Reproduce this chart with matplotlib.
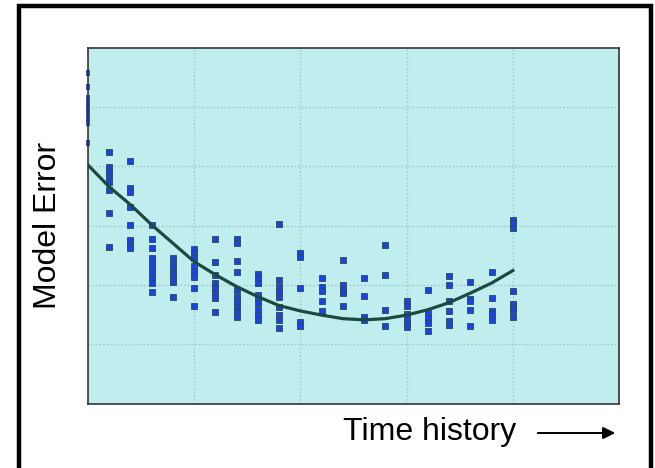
import matplotlib.pyplot as plt
from matplotlib.patches import Rectangle

# положення стовпчиків по осі часу
x_cols = [0.0, 0.2, 0.4, 0.6, 0.8, 1.0, 1.2, 1.4, 1.6, 1.8, 2.0,
          2.2, 2.4, 2.6, 2.8, 3.0, 3.2, 3.4, 3.6, 3.8, 4.0]

# похибки моделі для кожного стовпчика
err_cols = [
    [5.57, 5.33, 5.15, 5.06, 4.98, 4.90, 4.81, 4.73, 4.39],
    [4.24, 3.99, 3.91, 3.82, 3.74, 3.60, 3.21, 2.64],
    [4.08, 3.63, 3.57, 3.32, 3.01, 2.76, 2.67, 2.62],
    [3.01, 2.78, 2.62, 2.45, 2.39, 2.28, 2.22, 2.14, 2.03, 1.88],
    [2.45, 2.36, 2.28, 2.19, 2.11, 2.05, 1.80],
    [2.60, 2.53, 2.45, 2.31, 2.22, 2.14, 1.94, 1.65],
    [2.78, 2.39, 2.17, 2.03, 1.94, 1.86, 1.77, 1.55],
    [2.78, 2.70, 2.41, 2.22, 1.91, 1.80, 1.72, 1.63, 1.55, 1.46],
    [2.19, 2.11, 2.03, 1.83, 1.77, 1.69, 1.58, 1.49, 1.41],
    [3.02, 2.08, 1.97, 1.88, 1.80, 1.63, 1.49, 1.41, 1.27],
    [2.53, 2.47, 1.94, 1.38, 1.31],
    [2.12, 1.97, 1.90, 1.72, 1.56],
    [2.42, 2.00, 1.91, 1.87, 1.64],
    [2.12, 1.81, 1.45, 1.41],
    [2.67, 2.17, 1.58, 1.31],
    [1.72, 1.64, 1.51, 1.44, 1.36, 1.29],
    [1.91, 1.52, 1.44, 1.35, 1.23],
    [2.15, 2.00, 1.73, 1.56, 1.39, 1.32],
    [2.04, 1.76, 1.73, 1.58, 1.31],
    [2.22, 1.78, 1.56, 1.51, 1.41],
    [3.09, 3.04, 2.95, 1.90, 1.68, 1.62, 1.57, 1.45],
]

# тренд, знятий з картинки в тих самих точках
trend = [4.02, 3.65, 3.35, 3.01, 2.70, 2.39, 2.17, 1.97, 1.80, 1.65, 1.56,
         1.49, 1.43, 1.41, 1.43, 1.49, 1.58, 1.70, 1.86, 2.03, 2.24]


def main() -> None:
    plt.rcParams["font.family"] = ["Liberation Sans", "DejaVu Sans"]
    W, H = 655, 468
    fig = plt.figure(figsize=(W / 100, H / 100), dpi=100)

    # чорна рамка навколо всього малюнка
    fig.patches.append(Rectangle((19 / W, -0.05), 632 / W, 1.05 - 6 / H,
                                 transform=fig.transFigure, fill=False,
                                 edgecolor="black", linewidth=3.2))

    ax = fig.add_axes([88 / W, 64.5 / H, 531 / W, 356 / H])
    ax.set_facecolor("#c0eeee")
    ax.set_xlim(0, 5)
    ax.set_ylim(0, 6)
    ax.set_xticks([1, 2, 3, 4])
    ax.set_yticks([1, 2, 3, 4, 5])
    ax.tick_params(length=0, labelbottom=False, labelleft=False)
    ax.grid(True, color="#9fc4c4", linestyle=":", linewidth=1.0)
    for s in ax.spines.values():
        s.set_color("#333333")
        s.set_linewidth(1.2)

    for i, (x, vals) in enumerate(zip(x_cols, err_cols)):
        if i == 0:
            # перший стовпчик майже схований під лівою віссю
            ax.plot([x] * len(vals), vals, linestyle="none", marker="|",
                    markersize=5, markeredgewidth=2.6,
                    markeredgecolor="#1a30c0", clip_on=False, zorder=2)
            continue
        ax.plot([x] * len(vals), vals, linestyle="none", marker="s",
                markersize=5, markerfacecolor="#1a44e0",
                markeredgecolor="#2a4a55", markeredgewidth=0.6,
                clip_on=False, zorder=2)

    ax.plot(x_cols, trend, color="#1b4a40", linewidth=2.3, zorder=3)

    ax.set_ylabel("Model Error", fontsize=23, labelpad=18)
    fig.text(516 / W, 1 - 432 / H, "Time history", ha="right", va="center",
             fontsize=23)
    ax.annotate("", xy=(618 / W, 1 - 433 / H), xytext=(535 / W, 1 - 433 / H),
                xycoords="figure fraction", textcoords="figure fraction",
                arrowprops=dict(arrowstyle="-|>", color="black", lw=1.4,
                                mutation_scale=18))

    fig.savefig("out.png", dpi=100)


if __name__ == "__main__":
    main()
